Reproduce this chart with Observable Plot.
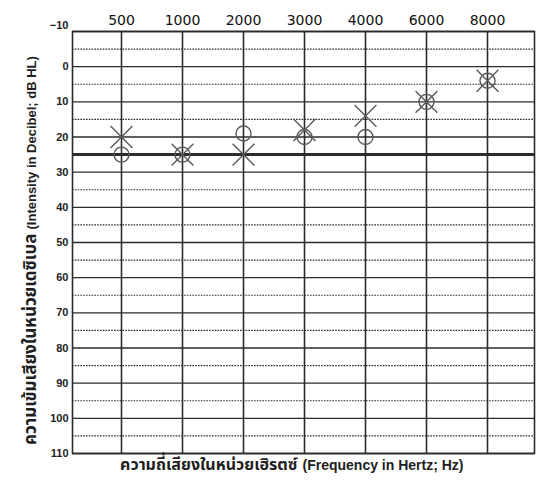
<!DOCTYPE html>
<html>
<head>
<meta charset="utf-8">
<script src="https://cdn.jsdelivr.net/npm/d3@7"></script>
<script src="https://cdn.jsdelivr.net/npm/@observablehq/plot@0.6"></script>
<style>
  html, body { margin: 0; padding: 0; background: #fff; }
</style>
</head>
<body>
<div id="chart"></div>
<script>
// Frequencies (Hz) shown along the top
const frequencies = ["500", "1000", "2000", "3000", "4000", "6000", "8000"];
// Thresholds (dB HL)
const rightEarO = [25, 25, 19, 20, 20, 10, 4];   // circles
const leftEarX  = [20, 25, 25, 18, 14, 10, 4];   // crosses
// Axis ticks
const yMajorTicks = [-10, 0, 10, 20, 30, 40, 50, 60, 70, 80, 90, 100, 110];
const yMinorTicks = [-5, 5, 15, 35, 45, 55, 65, 75, 85, 95, 105];
const boldLine = [25];

// Axis titles (Thai part and English part)
const yTitleThai = "ความเข้มเสียงในหน่วยเดซิเบล";
const yTitleEng = "(Intensity in Decibel; dB HL)";
const xTitleThai = "ความถี่เสียงในหน่วยเฮิรตซ์";
const xTitleEng = "(Frequency in Hertz; Hz)";

const oData = frequencies.map((f, i) => ({f, v: rightEarO[i]}));
const xData = frequencies.map((f, i) => ({f, v: leftEarX[i]}));

const ink = "#2b2b2b";
const markInk = "#5a5a5a";
const thaiFont = "'Noto Sans Thai', 'Loma', 'Garuda', 'Liberation Sans', 'DejaVu Sans', sans-serif";
const latinFont = "'Liberation Sans', Arial, sans-serif";

const chart = Plot.plot({
  width: 539,
  height: 485,
  marginLeft: 72,
  marginRight: 5,
  marginTop: 31,
  marginBottom: 32,
  style: {background: "#fff", color: ink, fontFamily: "'DejaVu Sans', sans-serif"},
  x: {type: "point", domain: frequencies, padding: 0.74, align: 0.515, axis: null},
  y: {domain: [-10, 110], reverse: true, axis: null},
  marks: [
    Plot.ruleY(yMinorTicks, {stroke: ink, strokeWidth: 1.2, strokeDasharray: "1.6,1.2"}),
    Plot.ruleY(yMajorTicks, {stroke: ink, strokeWidth: 1.3}),
    Plot.ruleY(boldLine, {stroke: ink, strokeWidth: 3}),
    Plot.ruleX(frequencies, {stroke: ink, strokeWidth: 1.6}),
    Plot.frame({stroke: ink, strokeWidth: 1.6}),
    Plot.dot(oData, {x: "f", y: "v", symbol: "circle", r: 7.5, stroke: markInk, strokeWidth: 1.4, fill: "none"}),
    Plot.dot(xData, {x: "f", y: "v", symbol: "times", r: 10, stroke: markInk, strokeWidth: 1.4}),
    Plot.axisX({anchor: "top", tickSize: 0, tickPadding: 7, fontSize: 14, label: null, fill: "#111"}),
    Plot.axisY(yMajorTicks.slice(0, 1), {anchor: "left", tickSize: 0, tickPadding: 4, fontSize: 11, fontWeight: "bold", label: null, dy: -6, fontFamily: latinFont, fill: "#222"}),
    Plot.axisY(yMajorTicks.slice(1), {anchor: "left", tickSize: 0, tickPadding: 4, fontSize: 11, fontWeight: "bold", label: null, fontFamily: latinFont, fill: "#222"}),
    // y title: Thai part (bottom) then English part (above), rotated
    Plot.text([yTitleThai], {frameAnchor: "left", textAnchor: "end", dx: -42, dy: -9, rotate: -90, text: d => d, fontSize: 17, fontWeight: "bold", fontFamily: thaiFont, fill: "#1e1e1e"}),
    Plot.text([yTitleEng], {frameAnchor: "left", textAnchor: "start", dx: -41, dy: -13, rotate: -90, text: d => d, fontSize: 13, fontWeight: "bold", fontFamily: latinFont, fill: "#1e1e1e"}),
    // x title: Thai part then English part
    Plot.text([xTitleThai], {frameAnchor: "bottom", textAnchor: "end", dx: -6, dy: 16, text: d => d, fontSize: 16, fontWeight: "bold", fontFamily: thaiFont, fill: "#1e1e1e"}),
    Plot.text([xTitleEng], {frameAnchor: "bottom", textAnchor: "start", dx: -1, dy: 16, text: d => d, fontSize: 14, fontWeight: "bold", fontFamily: latinFont, fill: "#1e1e1e"})
  ]
});

document.getElementById("chart").appendChild(chart);
</script>
</body>
</html>
